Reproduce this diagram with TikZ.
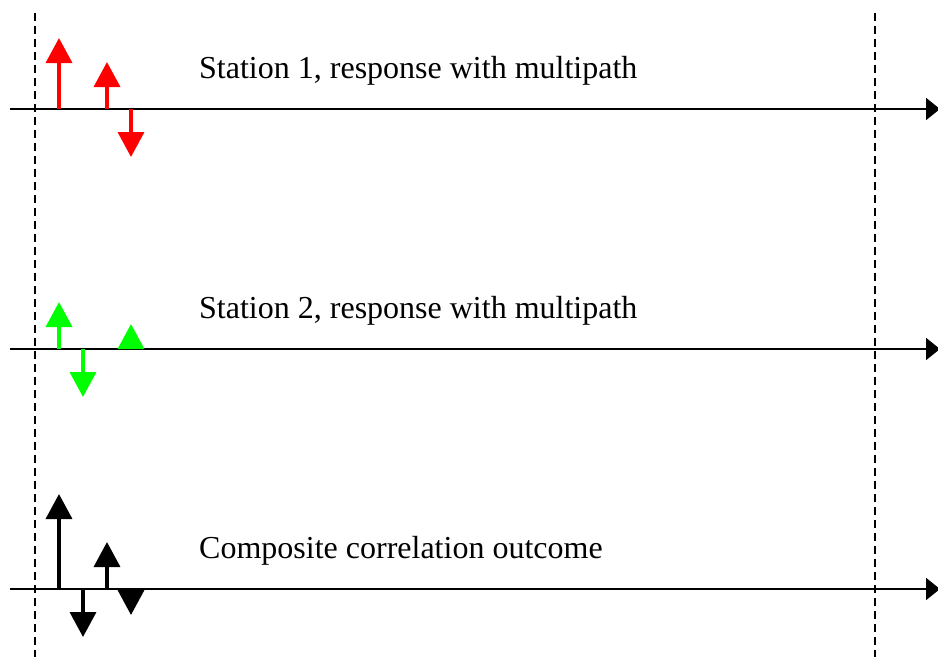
\documentclass[tikz,border=0pt]{standalone}
\usepackage{fontspec}
\setmainfont{Liberation Serif}
\usetikzlibrary{arrows.meta,positioning}

\tikzset{
  axis/.style={line width=2pt,-{Triangle[length=14pt,width=22pt]}},
  pulse/.style={line width=3.5pt,-{Triangle[length=25pt,width=26pt]}},
  bound/.style={line width=1.8pt,dash pattern=on 8pt off 5pt},
  caption/.style={anchor=base west,inner sep=0pt,font=\fontsize{32}{38}\selectfont}
}

\begin{document}
\begin{tikzpicture}[x=1pt,y=-1pt]
	\useasboundingbox (0,0) rectangle (938,657);
	% time window
	\coordinate (wl0) at (35,13);
	\coordinate (wl1) at (35,657);
	\coordinate (wr0) at (875,13);
	\coordinate (wr1) at (875,657);
	\draw[bound] (wl0) -- (wl1);
	\draw[bound] (wr0) -- (wr1);
	% time axes
	\foreach \n/\y in {a/109,b/349,c/589}{
		\coordinate (\n0) at (10,\y);
		\coordinate (\n1) at (940,\y);
		\draw[axis] (\n0) -- (\n1);
	}
	\node[caption] (t1) at (199,78) {Station 1, response with multipath};
	\node[caption] (t2) at (199,318) {Station 2, response with multipath};
	\node[caption] (t3) at (199,558) {Composite correlation outcome};
	% station 1
	\foreach \i/\x/\h in {1/59/38,2/107/62,3/131/157}{
		\coordinate (r\i) at (\x,109);
		\coordinate (rt\i) at (\x,\h);
		\draw[pulse,red] (r\i) -- (rt\i);
	}
	% station 2
	\foreach \i/\x/\h in {1/59/302,2/83/397,3/131/324}{
		\coordinate (g\i) at (\x,349);
		\coordinate (gt\i) at (\x,\h);
		\draw[pulse,green] (g\i) -- (gt\i);
	}
	% composite
	\foreach \i/\x/\h in {1/59/494,2/107/542,3/83/637,4/131/615}{
		\coordinate (k\i) at (\x,589);
		\coordinate (kt\i) at (\x,\h);
		\draw[pulse,black] (k\i) -- (kt\i);
	}
\end{tikzpicture}
\end{document}
